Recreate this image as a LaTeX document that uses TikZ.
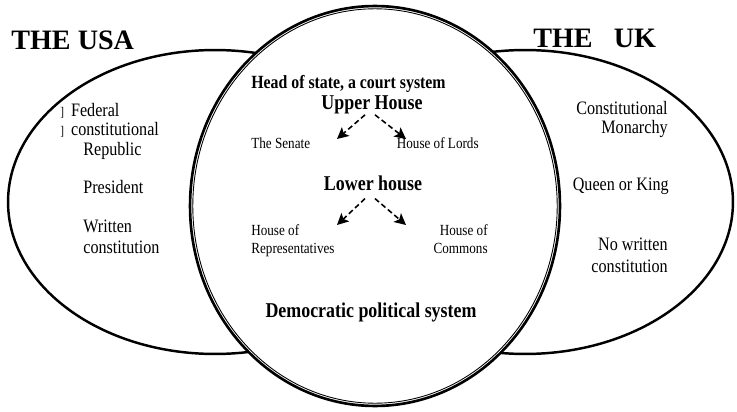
\documentclass[tikz,border=0pt]{standalone}
\usepackage{fontspec}
\setmainfont{Liberation Serif}
\newfontfamily\narrowfont{Liberation Serif}[FakeStretch=0.85]
\usetikzlibrary{arrows.meta}

\tikzset{
  countrytitle/.style={font=\bfseries\fontsize{16}{16}\selectfont, inner sep=0pt},
  sidelabel/.style={font=\narrowfont\fontsize{10.8}{10.8}\selectfont, inner sep=0pt},
  househead/.style={font=\narrowfont\bfseries\fontsize{12}{12}\selectfont, inner sep=0pt},
  housename/.style={font=\narrowfont\fontsize{8.8}{8.8}\selectfont, inner sep=0pt},
  branch/.style={-{Stealth[length=6.5pt,width=6.5pt,inset=1.5pt]}, dash pattern=on 3pt off 1.8pt, line width=0.9pt},
  sidering/.style={line width=1.4pt},
}
\newcommand{\oddmark}{{\fontsize{7.5}{7.5}\selectfont]}\hspace{4pt}}

\begin{document}
\begin{tikzpicture}[x=0.02cm, y=-0.02cm]
  \useasboundingbox (0,0) rectangle (737,412);

  %% the two country ellipses
  \draw[sidering] (215,202) ellipse [x radius=4.14cm, y radius=3.04cm];
  \draw[sidering] (525,202) ellipse [x radius=4.16cm, y radius=3.04cm];

  %% shared part: middle ellipse with a double rim
  \draw[line width=1.5pt, fill=white] (375,206) ellipse [x radius=3.7cm, y radius=4cm];
  \draw[line width=0.5pt] (375,206) ellipse [x radius=3.645cm, y radius=3.945cm];

  % titles
  \node[countrytitle, anchor=base west] (usa) at (11,50) {THE USA};
  \node[countrytitle, anchor=base west] (uk) at (533,48) {THE\ \ \ UK};

  % the USA
  \node[sidelabel, anchor=base west] (federal) at (60,116) {\oddmark Federal};
  \node[sidelabel, anchor=base west] (constit) at (60,135) {\oddmark constitutional};
  \node[sidelabel, anchor=base west] (republic) at (83,155) {Republic};
  \node[sidelabel, anchor=base west] (president) at (83,194) {President};
  \node[sidelabel, anchor=base west] (written) at (83,232) {Written};
  \node[sidelabel, anchor=base west] (writtenb) at (83,253) {constitution};

  % the UK
  \node[sidelabel, anchor=base east] (monarch) at (668,114) {Constitutional};
  \node[sidelabel, anchor=base east] (monarchb) at (668,133) {Monarchy};
  \node[sidelabel, anchor=base east] (queen) at (669,190) {Queen or King};
  \node[sidelabel, anchor=base east] (nowritten) at (668,250) {No written};
  \node[sidelabel, anchor=base east] (nowrittenb) at (668,272) {constitution};

  % both
  \node[househead, anchor=base west, font=\narrowfont\bfseries\fontsize{10.6}{10.6}\selectfont]
    (headstate) at (251,89) {Head of state, a court system};
  \node[househead, anchor=base] (upper) at (372,110) {Upper House};
  \node[housename, anchor=base west] (senate) at (251,149) {The Senate};
  \node[housename, anchor=base east] (lords) at (479,149) {House of Lords};

  \node[househead, anchor=base] (lower) at (373,191) {Lower house};
  \node[housename, anchor=base west] (reps) at (251,235) {House of};
  \node[housename, anchor=base west] (repsb) at (251,253) {Representatives};
  \node[housename, anchor=base east] (commons) at (488,235) {House of};
  \node[housename, anchor=base east] (commonsb) at (488,253) {Commons};

  \node[househead, anchor=base] (democ) at (371,317) {Democratic political system};

  % dashed branches
  \coordinate (senatetip) at (337,139);
  \coordinate (lordstip) at (406,139);
  \coordinate (repstip) at (337,225);
  \coordinate (commonstip) at (406,225);
  \draw[branch] ([xshift=-0.14cm]upper.south) -- (senatetip);
  \draw[branch] ([xshift=0.06cm]upper.south) -- (lordstip);
  \draw[branch] ([xshift=-0.16cm, yshift=-0.14cm]lower.south) -- (repstip);
  \draw[branch] ([xshift=0.04cm, yshift=-0.14cm]lower.south) -- (commonstip);
\end{tikzpicture}
\end{document}
